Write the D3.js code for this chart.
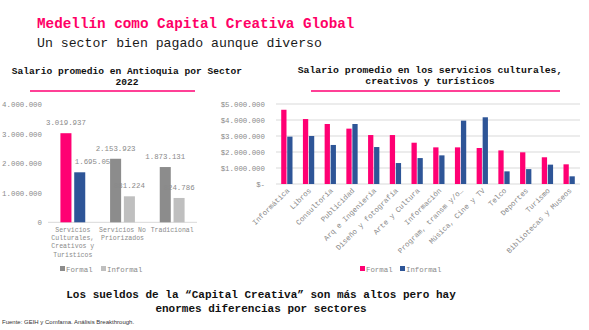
<!DOCTYPE html>
<html><head><meta charset="utf-8">
<script src="https://cdn.jsdelivr.net/npm/d3@7"></script>
<style>
body{margin:0;background:#fff;}
text{font-family:"Liberation Mono","DejaVu Sans Mono",monospace;}
</style></head>
<body>
<svg id="c" width="589" height="330"></svg>
<script>
// ---- data ----
const leftCategories = [["Servicios","Culturales,","Creativos y","Turisticos"],["Servicios No","Priorizados"],["Tradicional"]];
const leftFormal = [3019937, 2153923, 1873131];
const leftInformal = [1695052, 881224, 824786];
const leftTicks = [0, 1000000, 2000000, 3000000, 4000000];

const rightCategories = ["Informática","Libros","Consultoría","Publicidad","Arq e Ingeniería","Diseño y fotografía","Arte y Cultura","Información","Program, transm y/o…","Música, Cine y TV","Telco","Deportes","Turismo","Bibliotecas y Museos"];
const rightFormal = [4640000, 4060000, 3750000, 3460000, 3060000, 3060000, 2580000, 2290000, 2290000, 2250000, 2100000, 1980000, 1670000, 1230000];
const rightInformal = [2960000, 3000000, 2440000, 3750000, 2310000, 1310000, 1620000, 1790000, 3960000, 4170000, 790000, 930000, 1210000, 480000];
const rightTicks = [0, 1000000, 2000000, 3000000, 4000000, 5000000];

const PINK = "#FF0073", BLUE = "#2E5597", DGREY = "#8C8C8C", LGREY = "#BFBFBF", TXT = "#8a8a8a";
const fmt = v => d3.format(",")(v).replace(/,/g, ".");

const svg = d3.select("#c");

// Header
svg.append("text").attr("x", 37).attr("y", 28).attr("font-size", 14.3).attr("font-weight", "bold")
  .attr("fill", "#FF0066").text("Medellín como Capital Creativa Global");
svg.append("text").attr("x", 37).attr("y", 47).attr("font-size", 13.2).attr("fill", "#1a1a1a")
  .text("Un sector bien pagado aunque diverso");

// ---- Left chart ----
{
  const x = d3.scaleBand().domain(d3.range(leftCategories.length)).range([48, 197]).paddingInner(0.5).paddingOuter(0.25);
  const xs = d3.scaleBand().domain(["f","i"]).range([0, x.bandwidth()]).paddingInner(0.2);
  const y = d3.scaleLinear().domain([0, 4000000]).range([222.3, 104.3]);

  svg.append("text").attr("x", 127).attr("y", 74).attr("text-anchor", "middle").attr("font-size", 9.6)
    .attr("font-weight", "bold").attr("fill", "#111").text("Salario promedio en Antioquia por Sector");
  svg.append("text").attr("x", 127).attr("y", 85).attr("text-anchor", "middle").attr("font-size", 9.6)
    .attr("font-weight", "bold").attr("fill", "#111").text("2022");
  svg.append("line").attr("x1", 30).attr("x2", 195).attr("y1", 91).attr("y2", 91).attr("stroke", PINK).attr("stroke-width", 1.3);

  const ya = svg.append("g").attr("transform", "translate(42,0)")
    .call(d3.axisLeft(y).tickValues(leftTicks).tickSize(0).tickPadding(0).tickFormat(fmt));
  ya.select(".domain").remove();
  ya.selectAll("text").attr("font-family", "Liberation Mono").attr("font-size", 7.4).attr("fill", TXT);

  svg.append("line").attr("x1", 48).attr("x2", 197).attr("y1", y(0)).attr("y2", y(0)).attr("stroke", "#d9d9d9");

  const fColors = [PINK, DGREY, DGREY], iColors = [BLUE, LGREY, LGREY];
  const g = svg.append("g");
  leftCategories.forEach((c, i) => {
    g.append("rect").attr("x", x(i) + xs("f")).attr("width", xs.bandwidth())
      .attr("y", y(leftFormal[i])).attr("height", y(0) - y(leftFormal[i])).attr("fill", fColors[i]);
    g.append("rect").attr("x", x(i) + xs("i")).attr("width", xs.bandwidth())
      .attr("y", y(leftInformal[i])).attr("height", y(0) - y(leftInformal[i])).attr("fill", iColors[i]);
    g.append("text").attr("x", x(i) + xs("f") + xs.bandwidth() / 2).attr("y", y(leftFormal[i]) - 8)
      .attr("text-anchor", "middle").attr("font-size", 7.4).attr("fill", TXT).text(fmt(leftFormal[i]));
    g.append("text").attr("x", x(i) + xs("i") + xs.bandwidth() / 2 + (i === 0 ? 15 : 0)).attr("y", y(leftInformal[i]) - 8)
      .attr("text-anchor", "middle").attr("font-size", 7.4).attr("fill", TXT).text(fmt(leftInformal[i]));
    const t = g.append("text").attr("text-anchor", "middle").attr("font-size", 6.5).attr("fill", TXT);
    c.forEach((line, k) => t.append("tspan").attr("x", x(i) + x.bandwidth() / 2).attr("y", 232 + k * 8.2).text(line));
  });

  const lg = svg.append("g").attr("transform", "translate(60,269)");
  lg.append("rect").attr("x", 0).attr("y", -3).attr("width", 5).attr("height", 5).attr("fill", DGREY);
  lg.append("text").attr("x", 6).attr("y", 2.5).attr("font-size", 7.4).attr("fill", TXT).text("Formal");
  lg.append("rect").attr("x", 41).attr("y", -3).attr("width", 5).attr("height", 5).attr("fill", LGREY);
  lg.append("text").attr("x", 47).attr("y", 2.5).attr("font-size", 7.4).attr("fill", TXT).text("Informal");
}

// ---- Right chart ----
{
  const x = d3.scaleBand().domain(rightCategories).range([276, 580]).paddingInner(0.48).paddingOuter(0.24);
  const xs = d3.scaleBand().domain(["f","i"]).range([0, x.bandwidth()]).paddingInner(0.12);
  const y = d3.scaleLinear().domain([0, 5000000]).range([184, 104]);

  svg.append("text").attr("x", 430).attr("y", 73).attr("text-anchor", "middle").attr("font-size", 9.8)
    .attr("font-weight", "bold").attr("fill", "#111").text("Salario promedio en los servicios culturales,");
  svg.append("text").attr("x", 430).attr("y", 84).attr("text-anchor", "middle").attr("font-size", 9.8)
    .attr("font-weight", "bold").attr("fill", "#111").text("creativos y turísticos");
  svg.append("line").attr("x1", 311).attr("x2", 560).attr("y1", 91).attr("y2", 91).attr("stroke", PINK).attr("stroke-width", 1.3);

  svg.append("g").selectAll("line").data(rightTicks).join("line")
    .attr("x1", 276).attr("x2", 580).attr("y1", d => y(d)).attr("y2", d => y(d))
    .attr("stroke", "#d9d9d9").attr("stroke-width", 1);

  const ya = svg.append("g").attr("transform", "translate(265,0)")
    .call(d3.axisLeft(y).tickValues(rightTicks).tickSize(0).tickPadding(0)
      .tickFormat(d => d === 0 ? "$-" : "$" + fmt(d)));
  ya.select(".domain").remove();
  ya.selectAll("text").attr("font-family", "Liberation Mono").attr("font-size", 7.4).attr("fill", TXT);

  const g = svg.append("g");
  g.selectAll(".f").data(rightCategories).join("rect")
    .attr("x", d => x(d) + xs("f")).attr("width", xs.bandwidth())
    .attr("y", (d, i) => y(rightFormal[i])).attr("height", (d, i) => y(0) - y(rightFormal[i])).attr("fill", PINK);
  g.selectAll(".i").data(rightCategories).join("rect")
    .attr("x", d => x(d) + xs("i")).attr("width", xs.bandwidth())
    .attr("y", (d, i) => y(rightInformal[i])).attr("height", (d, i) => y(0) - y(rightInformal[i])).attr("fill", BLUE);

  g.selectAll(".lab").data(rightCategories).join("text")
    .attr("transform", d => `translate(${x(d) + x.bandwidth() / 2 + 3},191) rotate(-45)`)
    .attr("text-anchor", "end").attr("font-size", 7.4).attr("fill", TXT).text(d => d);

  const lg = svg.append("g").attr("transform", "translate(360,269)");
  lg.append("rect").attr("x", 0).attr("y", -3).attr("width", 5).attr("height", 5).attr("fill", PINK);
  lg.append("text").attr("x", 6).attr("y", 2.5).attr("font-size", 7.4).attr("fill", TXT).text("Formal");
  lg.append("rect").attr("x", 40).attr("y", -3).attr("width", 5).attr("height", 5).attr("fill", BLUE);
  lg.append("text").attr("x", 46).attr("y", 2.5).attr("font-size", 7.4).attr("fill", TXT).text("Informal");
}

// Footer
svg.append("text").attr("x", 261).attr("y", 298).attr("text-anchor", "middle").attr("font-size", 11)
  .attr("font-weight", "bold").attr("fill", "#111").text("Los sueldos de la “Capital Creativa” son más altos pero hay");
svg.append("text").attr("x", 261).attr("y", 311.5).attr("text-anchor", "middle").attr("font-size", 11)
  .attr("font-weight", "bold").attr("fill", "#111").text("enormes diferencias por sectores");
svg.append("text").attr("x", 2).attr("y", 324).attr("font-size", 6).attr("fill", "#333")
  .style("font-family", "'Liberation Sans', Arial, sans-serif").text("Fuente: GEIH y Comfama. Análisis Breakthrough.");
</script>
</body></html>
